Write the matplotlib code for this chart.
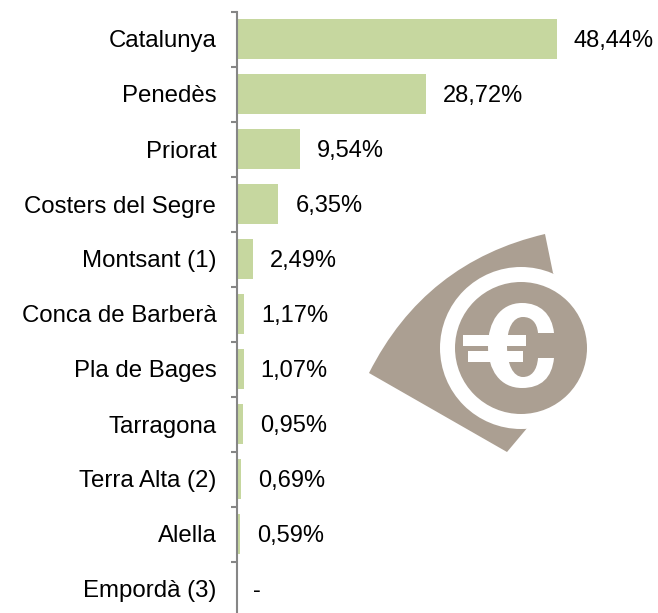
import numpy as np
import matplotlib
matplotlib.use("Agg")
import matplotlib.pyplot as plt
from matplotlib.patches import Circle, PathPatch, Rectangle
from matplotlib.path import Path
from matplotlib.transforms import Affine2D

categories = ["Catalunya", "Penedès", "Priorat", "Costers del Segre", "Montsant (1)",
              "Conca de Barberà", "Pla de Bages", "Tarragona", "Terra Alta (2)", "Alella", "Empordà (3)"]
values = [48.44, 28.72, 9.54, 6.35, 2.49, 1.17, 1.07, 0.95, 0.69, 0.59, 0]
labels = ["48,44%", "28,72%", "9,54%", "6,35%", "2,49%", "1,17%", "1,07%", "0,95%", "0,69%", "0,59%", "-"]

W, H = 658, 613
plt.rcParams["font.family"] = ["Liberation Sans", "DejaVu Sans"]
fig = plt.figure(figsize=(W / 100, H / 100), dpi=100)
x0, x1, ytop, ybot = 236.5, 657.5, 11.5, 616.5
ax = fig.add_axes([x0 / W, 1 - ybot / H, (x1 - x0) / W, (ybot - ytop) / H])
ax.set_xlim(0, (x1 - x0) / 6.61)
ax.set_ylim(len(categories) - 0.5, -0.5)
ax.patch.set_alpha(0)
y = np.arange(len(categories))
ax.barh(y, values, height=0.72, color="#c6d79f", zorder=2)
for s in ("top", "right", "bottom"):
    ax.spines[s].set_visible(False)
ax.spines["left"].set_color("#868686")
ax.spines["left"].set_linewidth(1.5)
ax.set_xticks([])
ax.set_yticks(y)
ax.set_yticklabels(categories, fontsize=17.3, color="#000000")
ax.set_yticks(np.arange(len(categories) + 1) - 0.5, minor=True)
ax.tick_params(axis="y", which="major", length=0, pad=14.5)
ax.tick_params(axis="y", which="minor", length=4.5, width=1.5, color="#868686")
for yi, v, t in zip(y, values, labels):
    ax.annotate(t, (v, yi), xytext=(12.2, -1.2), textcoords="offset points", va="center", ha="left",
                fontsize=17, color="#000000")

# Euro logo, drawn in image pixel coordinates
logo = "#ab9f92"
px = Affine2D().scale(1, -1).translate(0, H)
sector = Path([(369, 373), (425, 262), (545, 234), (553, 273), (600, 348), (528, 427), (507, 452), (369, 373)],
              [Path.MOVETO, Path.CURVE3, Path.CURVE3, Path.LINETO, Path.LINETO, Path.LINETO, Path.LINETO, Path.CLOSEPOLY])
euro_c = Path([(554, 333), (552, 314), (540, 303), (522, 303),
               (500, 303), (488, 322), (488, 346),
               (488, 370), (500, 388), (522, 388),
               (541, 388), (552, 378), (554, 358),
               (538, 358),
               (537, 371), (531, 377), (523, 377),
               (513, 377), (507, 364), (507, 346),
               (507, 328), (513, 317), (523, 317),
               (531, 317), (537, 322), (538, 333),
               (554, 333)],
              [Path.MOVETO] + [Path.CURVE4] * 12 + [Path.LINETO] + [Path.CURVE4] * 12 + [Path.CLOSEPOLY])
art = [
    PathPatch(sector, fc=logo, ec="none", transform=px),
    Circle((521, 348), 81, fc="white", ec="none", transform=px),
    Circle((521, 348), 66, fc=logo, ec="none", transform=px),
    PathPatch(euro_c, fc="white", ec="none", transform=px),
    Rectangle((463, 335), 63, 11, fc="white", ec="none", transform=px),
    Rectangle((468, 351), 55, 11, fc="white", ec="none", transform=px),
]
for a in art:
    fig.add_artist(a)

fig.savefig("out.png", dpi=100)
